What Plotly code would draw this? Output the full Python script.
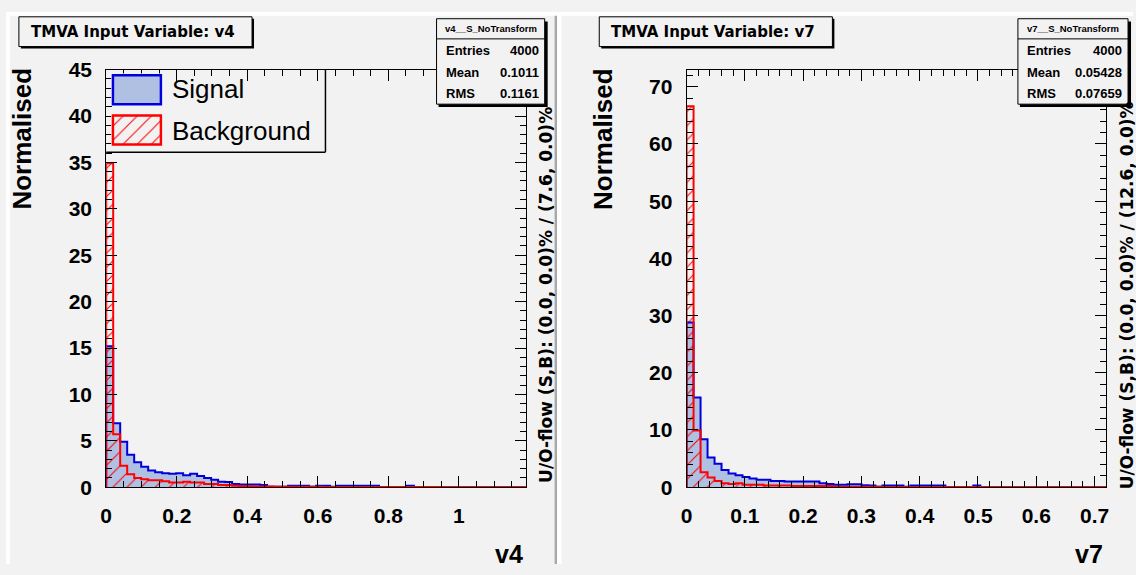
import numpy as np
import plotly.graph_objects as go

# ---------------- data ----------------
v4_range = [0.0, 1.19]
v7_range = [0.0, 0.72]
n_bins = 60

signal_v4 = [15.2, 6.9, 4.9, 3.5, 2.7, 2.2, 1.8, 1.6, 1.5, 1.45,
             1.5, 1.3, 1.45, 1.2, 1.0, 0.8, 0.6, 0.55, 0.35, 0.3,
             0.3, 0.3, 0.25, 0.05, 0.05, 0.05, 0.15, 0.15, 0.15, 0.05,
             0.15, 0.15, 0.05, 0.15, 0.15, 0.15, 0.15, 0.15, 0.15, 0.03,
             0.03, 0.03, 0.03, 0.15, 0.02, 0.02, 0.0, 0.0, 0.0, 0.0,
             0.0, 0.0, 0.0, 0.0, 0.0, 0.0, 0.0, 0.0, 0.0, 0.0]
background_v4 = [34.9, 5.7, 2.3, 1.4, 1.0, 0.86, 0.75, 0.75, 0.65, 0.5,
                 0.5, 0.6, 0.5, 0.5, 0.35, 0.35, 0.25, 0.25, 0.15, 0.12,
                 0.1, 0.08, 0.08, 0.08, 0.06, 0.06, 0.05, 0.05, 0.04, 0.04,
                 0.04, 0.03, 0.03, 0.03, 0.03, 0.02, 0.02, 0.02, 0.02, 0.02,
                 0.02, 0.01, 0.01, 0.01, 0.01, 0.01, 0.01, 0.01, 0.0, 0.0,
                 0.0, 0.0, 0.0, 0.0, 0.0, 0.0, 0.0, 0.0, 0.0, 0.0]

signal_v7 = [28.8, 15.7, 8.4, 5.2, 4.1, 3.0, 2.4, 2.1, 1.8, 1.5,
             1.3, 1.3, 1.1, 1.1, 1.0, 1.0, 1.0, 1.0, 1.0, 0.7,
             0.55, 0.45, 0.45, 0.5, 0.5, 0.35, 0.3, 0.1, 0.3, 0.3,
             0.3, 0.1, 0.3, 0.3, 0.3, 0.3, 0.3, 0.05, 0.05, 0.05,
             0.05, 0.3, 0.0, 0.0, 0.0, 0.0, 0.0, 0.0, 0.0, 0.0,
             0.0, 0.0, 0.0, 0.0, 0.0, 0.0, 0.0, 0.0, 0.0, 0.0]
background_v7 = [66.6, 9.9, 2.6, 1.7, 1.1, 0.7, 0.55, 0.7, 0.45, 0.45,
                 0.45, 0.3, 0.3, 0.3, 0.3, 0.2, 0.2, 0.2, 0.2, 0.2,
                 0.2, 0.1, 0.1, 0.1, 0.1, 0.1, 0.08, 0.08, 0.05, 0.05,
                 0.05, 0.05, 0.04, 0.04, 0.03, 0.03, 0.03, 0.02, 0.02, 0.02,
                 0.02, 0.02, 0.01, 0.01, 0.01, 0.01, 0.0, 0.0, 0.0, 0.0,
                 0.0, 0.0, 0.0, 0.0, 0.0, 0.0, 0.0, 0.0, 0.0, 0.0]

stats_v4 = [("Entries", "4000"), ("Mean", "0.1011"), ("RMS", "0.1161")]
stats_v7 = [("Entries", "4000"), ("Mean", "0.05428"), ("RMS", "0.07659")]
uoflow_v4 = "U/O-flow (S,B): (0.0, 0.0)% / (7.6, 0.0)%"
uoflow_v7 = "U/O-flow (S,B): (0.0, 0.0)% / (12.6, 0.0)%"

# ---------------- style ----------------
W, H = 1136, 575
PAD = "#f2f2f2"
SIG_FILL = "#b0c0e2"
SIG_LINE = "#0000dd"
BKG_LINE = "#ff0000"
BOLD = "DejaVu Sans"
HELV = "Liberation Sans"


def X(p):
    return p / W


def Y(p):
    return 1 - p / H


HATCH = dict(shape="/", fgcolor=BKG_LINE, bgcolor="rgba(0,0,0,0)", fillmode="overlay",
             fgopacity=1, size=10, solidity=0.1)

fig = go.Figure()

panels = [
    dict(name="v4", rng=v4_range, sig=signal_v4, bkg=background_v4, ymax=45,
         xdt=0.2, xminor=0.05, ydt=5, yminor=1, ax="", off=0,
         stats=stats_v4, uo=uoflow_v4, sbox=(434, 543)),
    dict(name="v7", rng=v7_range, sig=signal_v7, bkg=background_v7, ymax=73,
         xdt=0.1, xminor=0.02, ydt=10, yminor=2, ax="2", off=585,
         stats=stats_v7, uo=uoflow_v7, sbox=(1020, 1131)),
]

shapes = []
annotations = []

# canvas bevels
shapes += [
    dict(type="rect", xref="paper", yref="paper", x0=X(0), x1=X(4), y0=0, y1=1,
         fillcolor="white", line_width=0, layer="below"),
    dict(type="rect", xref="paper", yref="paper", x0=0, x1=1, y0=Y(4), y1=1,
         fillcolor="white", line_width=0, layer="below"),
    dict(type="rect", xref="paper", yref="paper", x0=X(553), x1=X(555.5), y0=0, y1=Y(4),
         fillcolor="#a8a8a8", line_width=0, layer="below"),
    dict(type="rect", xref="paper", yref="paper", x0=X(555.5), x1=X(560), y0=0, y1=1,
         fillcolor="white", line_width=0, layer="below"),
]

for p in panels:
    edges = np.linspace(p["rng"][0], p["rng"][1], n_bins + 1)
    centers = 0.5 * (edges[:-1] + edges[1:])
    bw = edges[1] - edges[0]
    xa = "x" + p["ax"]
    ya = "y" + p["ax"]
    step_x = [edges[0]] + list(edges[:-1]) + [edges[-1], edges[-1]]

    fig.add_trace(go.Bar(x=centers, y=p["sig"], width=bw, xaxis=xa, yaxis=ya,
                         marker=dict(color=SIG_FILL, line_width=0), showlegend=False,
                         hoverinfo="skip"))
    fig.add_trace(go.Scatter(x=step_x, y=[0] + list(p["sig"]) + [p["sig"][-1], 0],
                             xaxis=xa, yaxis=ya, mode="lines", line_shape="hv",
                             line=dict(color=SIG_LINE, width=2), showlegend=False,
                             hoverinfo="skip"))
    fig.add_trace(go.Bar(x=centers, y=p["bkg"], width=bw, xaxis=xa, yaxis=ya,
                         marker=dict(color="rgba(0,0,0,0)", line_width=0, pattern=HATCH),
                         showlegend=False, hoverinfo="skip"))
    fig.add_trace(go.Scatter(x=step_x, y=[0] + list(p["bkg"]) + [p["bkg"][-1], 0],
                             xaxis=xa, yaxis=ya, mode="lines", line_shape="hv",
                             line=dict(color=BKG_LINE, width=2), showlegend=False,
                             hoverinfo="skip"))

    o = p["off"]
    axis_common = dict(showgrid=False, zeroline=False, showline=True, linecolor="black",
                       linewidth=1, mirror="ticks", ticks="inside", ticklen=11,
                       tickwidth=1, tickcolor="black",
                       tickfont=dict(family=HELV, size=21, color="black", weight="bold"))
    xkey = "xaxis" + p["ax"]
    ykey = "yaxis" + p["ax"]
    fig.update_layout({
        xkey: dict(axis_common, domain=[X(101 + o), X(524 + o)], range=p["rng"],
                   tickmode="linear", tick0=0, dtick=p["xdt"], anchor=ya,
                   ticklabelstandoff=10,
                   minor=dict(ticks="inside", ticklen=6, tickwidth=1, tickcolor="black",
                              dtick=p["xminor"], tick0=0, showgrid=False)),
        ykey: dict(axis_common, domain=[Y(495), Y(60)], range=[0, p["ymax"]],
                   tickmode="linear", tick0=0, dtick=p["ydt"], anchor=xa,
                   ticklabelstandoff=9,
                   minor=dict(ticks="inside", ticklen=6, tickwidth=1, tickcolor="black",
                              dtick=p["yminor"], tick0=0, showgrid=False)),
    })

    # title box
    shapes.append(dict(type="rect", xref="paper", yref="paper", x0=X(15 + o), x1=X(250 + o),
                       y0=Y(38), y1=Y(7), fillcolor="black", line_width=0, layer="above"))
    shapes.append(dict(type="rect", xref="paper", yref="paper", x0=X(13 + o), x1=X(248 + o),
                       y0=Y(36), y1=Y(5), fillcolor=PAD, line=dict(color="black", width=1),
                       layer="above"))
    annotations.append(dict(text="TMVA Input Variable: " + p["name"], xref="paper", yref="paper",
                            x=X(23 + o), y=Y(21), xanchor="left", yanchor="middle",
                            showarrow=False,
                            font=dict(family=BOLD, size=15, color="black", weight="bold")))

    # stats box
    s0, s1 = p["sbox"]
    shapes.append(dict(type="rect", xref="paper", yref="paper", x0=X(s0 + 2), x1=X(s1 + 3),
                       y0=Y(99), y1=Y(10), fillcolor="black", line_width=0, layer="above"))
    shapes.append(dict(type="rect", xref="paper", yref="paper", x0=X(s0), x1=X(s1),
                       y0=Y(96), y1=Y(7), fillcolor=PAD, line=dict(color="black", width=1),
                       layer="above"))
    shapes.append(dict(type="line", xref="paper", yref="paper", x0=X(s0), x1=X(s1),
                       y0=Y(28), y1=Y(28), line=dict(color="black", width=1), layer="above"))
    annotations.append(dict(text=p["name"] + "__S_NoTransform", xref="paper", yref="paper",
                            x=X((s0 + s1) / 2), y=Y(17), xanchor="center", yanchor="middle",
                            showarrow=False,
                            font=dict(family=HELV, size=9.5, color="black", weight="bold")))
    for i, (lab, val) in enumerate(p["stats"]):
        yy = 40 + 22.5 * i
        annotations.append(dict(text=lab, xref="paper", yref="paper", x=X(s0 + 7), y=Y(yy),
                                xanchor="left", yanchor="middle", showarrow=False,
                                font=dict(family=HELV, size=13, color="black", weight="bold")))
        annotations.append(dict(text=val, xref="paper", yref="paper", x=X(s1 - 4), y=Y(yy),
                                xanchor="right", yanchor="middle", showarrow=False,
                                font=dict(family=HELV, size=13, color="black", weight="bold")))

    # axis titles
    annotations.append(dict(text="Normalised", xref="paper", yref="paper", x=X(16 + o),
                            y=Y(132), xanchor="center", yanchor="middle", textangle=-90,
                            showarrow=False,
                            font=dict(family=HELV, size=26, color="black", weight="bold")))
    annotations.append(dict(text=p["name"], xref="paper", yref="paper", x=X(523 + o),
                            y=Y(565), xanchor="right", yanchor="middle", showarrow=False,
                            font=dict(family=HELV, size=25, color="black", weight="bold")))
    annotations.append(dict(text=p["uo"], xref="paper", yref="paper", x=X(545 + o),
                            y=Y(295), xanchor="center", yanchor="middle", textangle=-90,
                            showarrow=False,
                            font=dict(family=BOLD, size=17, color="black", weight="bold")))

# ---------------- legend (left panel) ----------------
shapes.append(dict(type="line", xref="paper", yref="paper", x0=X(101), x1=X(322),
                   y0=Y(146), y1=Y(146), line=dict(color="black", width=1.5), layer="above"))
shapes.append(dict(type="line", xref="paper", yref="paper", x0=X(322), x1=X(322),
                   y0=Y(146), y1=Y(60), line=dict(color="black", width=1.5), layer="above"))

swatches = [
    dict(ax="3", box=(108, 156, 66, 96), fill=SIG_FILL, line=SIG_LINE, pattern=None,
         label="Signal", ty=80),
    dict(ax="4", box=(108, 156, 108, 138), fill="rgba(0,0,0,0)", line=BKG_LINE,
         pattern=HATCH, label="Background", ty=124),
]
for s in swatches:
    x0, x1, y0, y1 = s["box"]
    pad = 2
    fx = pad / (x1 - x0)
    fy = pad / (y1 - y0)
    marker = dict(color=s["fill"], line=dict(color=s["line"], width=2.5))
    if s["pattern"]:
        marker["pattern"] = s["pattern"]
    fig.add_trace(go.Bar(x=[0.5], y=[1], width=[1], base=[0], xaxis="x" + s["ax"],
                         yaxis="y" + s["ax"], marker=marker, showlegend=False,
                         hoverinfo="skip"))
    fig.update_layout({
        "xaxis" + s["ax"]: dict(domain=[X(x0 - pad), X(x1 + pad)], range=[-fx, 1 + fx],
                                visible=False, anchor="y" + s["ax"], fixedrange=True),
        "yaxis" + s["ax"]: dict(domain=[Y(y1 + pad), Y(y0 - pad)], range=[-fy, 1 + fy],
                                visible=False, anchor="x" + s["ax"], fixedrange=True),
    })
    annotations.append(dict(text=s["label"], xref="paper", yref="paper", x=X(165), y=Y(s["ty"]),
                            xanchor="left", yanchor="middle", showarrow=False,
                            font=dict(family=HELV, size=26, color="black")))

fig.update_layout(
    width=W, height=H, margin=dict(l=0, r=0, t=0, b=0),
    paper_bgcolor=PAD, plot_bgcolor=PAD,
    barmode="overlay", bargap=0, showlegend=False,
    shapes=shapes, annotations=annotations,
)

fig.write_html("out.html", config={"displayModeBar": False},
               post_script="document.body.style.margin='0';document.body.style.overflow='hidden';")
